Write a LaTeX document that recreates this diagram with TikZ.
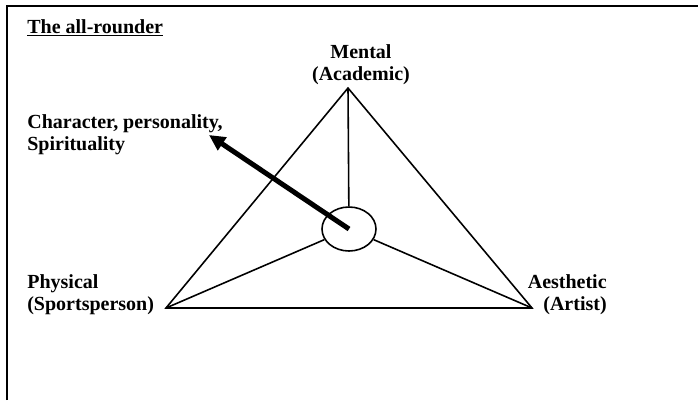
\documentclass[tikz,border=0pt]{standalone}
\usepackage{fontspec}
\setmainfont{Liberation Serif}
\usetikzlibrary{shapes.geometric,arrows.meta}

\begin{document}
\begin{tikzpicture}[x=0.6pt,y=-0.6pt,
    labeltext/.style={font=\bfseries\fontsize{12}{13.2}\selectfont, inner sep=0pt},
    side/.style={line width=0.95pt}]
    \useasboundingbox (0,0) rectangle (698,400);

    % Frame (only top and left edges visible)
    \draw[line width=1.3pt] (7,400) -- (7,6) -- (698,6);

    % Title
    \node[labeltext, anchor=base west] (title) at (27,33) {\underline{The all-rounder}};

    % Corners of the triangle
    \coordinate (top) at (348,88);
    \coordinate (left) at (166,308);
    \coordinate (right) at (532,308);

    % Centre ellipse
    \node[side, draw, ellipse, minimum width=32.4pt, minimum height=26.4pt, inner sep=0pt] (hub) at (349,229) {};

    % Triangle and spokes
    \draw[side] (top) -- (left) -- (right) -- cycle;
    \draw[side] (top) -- (hub);
    \draw[side] (hub) -- (left);
    \draw[side] (hub) -- (right);

    % Corner labels
    \node[labeltext, align=center, anchor=north] (mental) at (361,44.5) {Mental\\(Academic)};
    \node[labeltext, align=left, anchor=north west] (physical) at (27,274.5) {Physical\\(Sportsperson)};
    \node[labeltext, align=right, anchor=north east] (aesthetic) at (607,274.5) {Aesthetic\\(Artist)};

    % Character arrow
    \node[labeltext, align=left, anchor=north west] (character) at (27,114) {Character, personality,\\Spirituality};
    \coordinate (tip) at (209,135);
    \draw[line width=3pt, -{Triangle[length=9.6pt,width=9pt]}] (hub.center) -- (tip);
\end{tikzpicture}
\end{document}
